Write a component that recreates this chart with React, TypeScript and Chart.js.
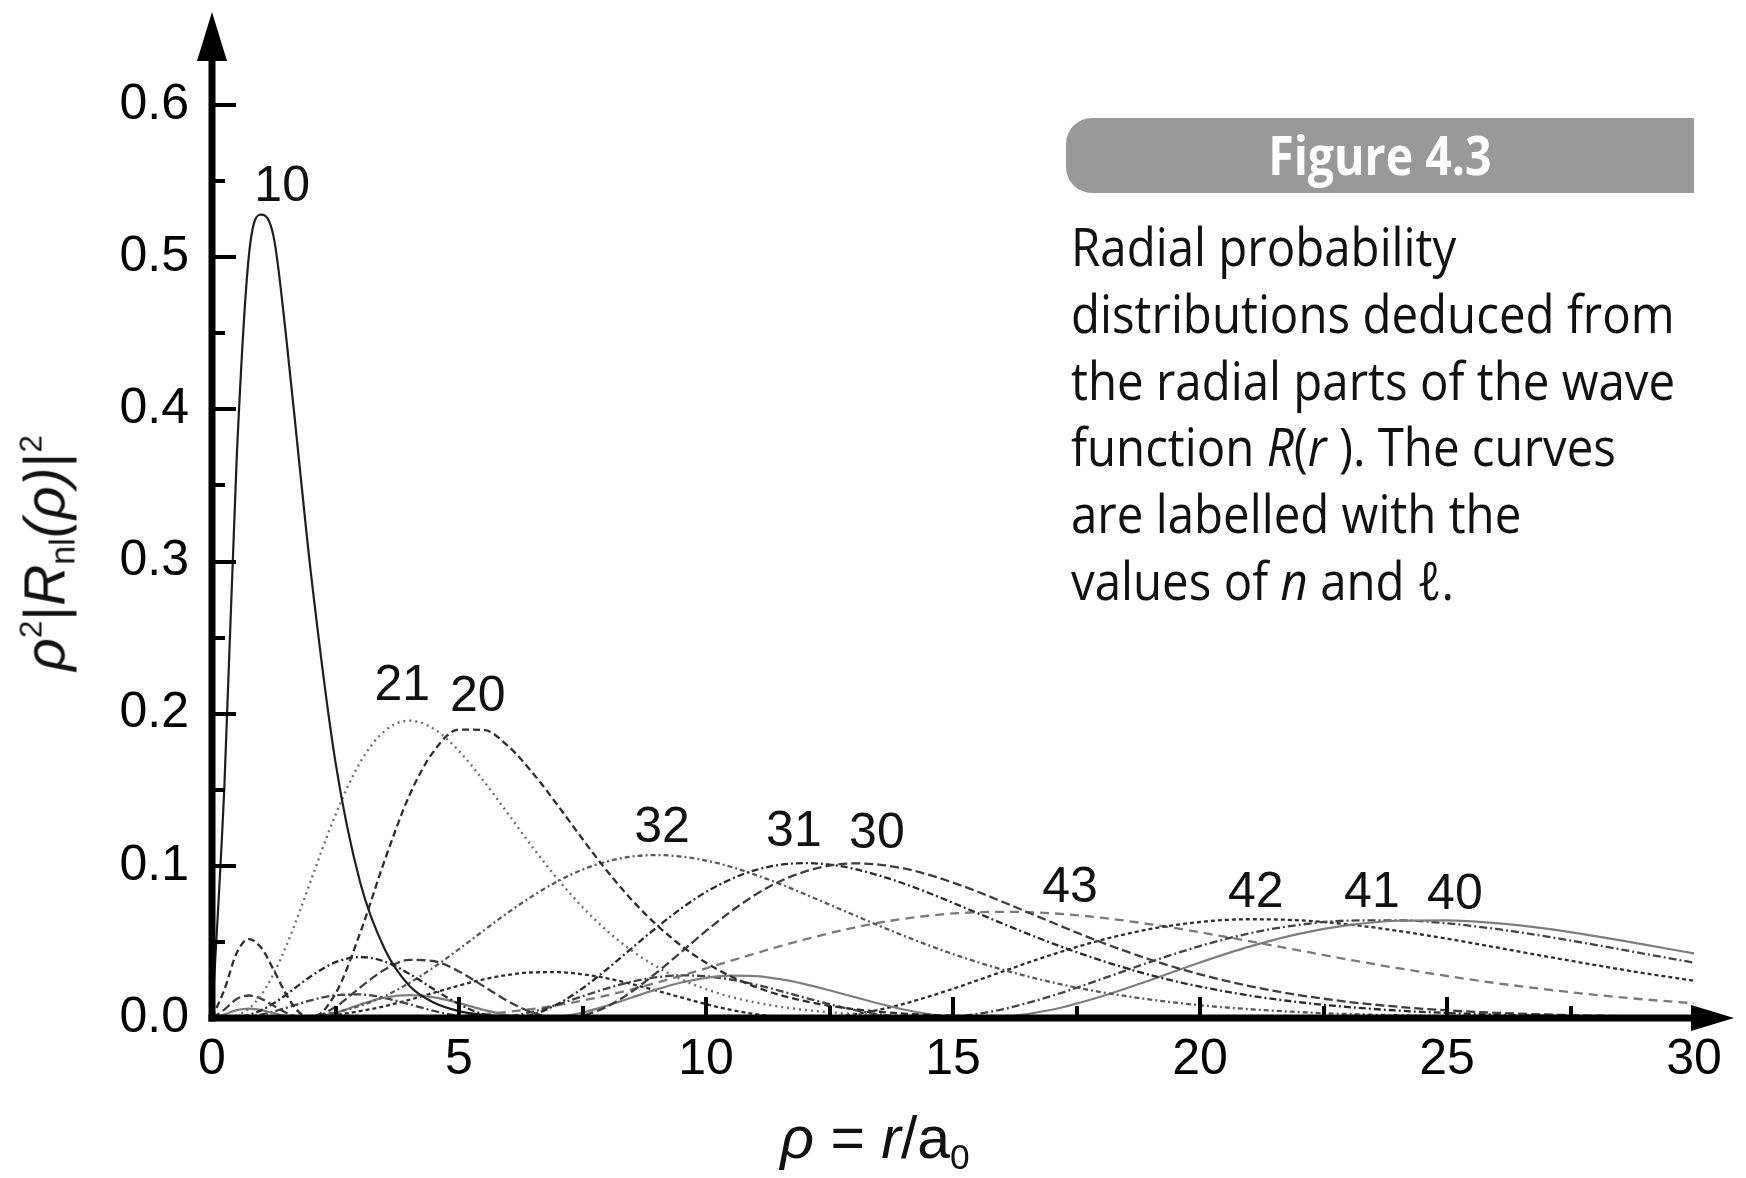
import React, { useEffect, useRef } from 'react';
import { Chart, registerables } from 'chart.js';

Chart.register(...registerables);

// rho = r / a0 sample points
const rho = [0, 0.25, 0.5, 0.75, 1, 1.25, 1.5, 1.75, 2,
  2.5, 3, 3.5, 4, 4.5, 5, 5.5, 6, 6.5, 7, 7.5, 8, 8.5, 9, 9.5, 10, 10.5, 11, 11.5, 12, 12.5, 13, 13.5, 14, 14.5, 15, 15.5, 16,
  17, 18, 19, 20, 21, 22, 23, 24, 25, 26, 27, 28, 29, 30];

const p10 = [0, 0.152, 0.368, 0.502, 0.528, 0.513, 0.448, 0.370, 0.293,
  0.168, 0.089, 0.045, 0.021, 0.010, 0.0045, 0.002, 0.0009, 0.0004, 0.0002, 0, 0, 0, 0, 0, 0, 0, 0, 0, 0, 0, 0, 0, 0, 0, 0, 0, 0,
  0, 0, 0, 0, 0, 0, 0, 0, 0, 0, 0, 0, 0, 0];

const p20 = [0, 0.0186, 0.0427, 0.0519, 0.0460, 0.0315, 0.0157, 0.0042, 0,
  0.0160, 0.0560, 0.1040, 0.1466, 0.1758, 0.1895, 0.1893, 0.1785, 0.1607, 0.1397, 0.1176, 0.0965, 0.0775, 0.0612, 0.0475, 0.0363, 0.0274, 0.0205, 0.0151, 0.0111, 0.0080, 0.0058, 0.0041, 0.0029, 0.0021, 0.0015, 0.0010, 0.0007,
  0.0003, 0.0002, 0.0001, 0, 0, 0, 0, 0, 0, 0, 0, 0, 0, 0];

const p21 = [0, 0.0001, 0.0016, 0.0062, 0.0153, 0.0292, 0.0471, 0.0679, 0.0902,
  0.1336, 0.1680, 0.1888, 0.1954, 0.1898, 0.1755, 0.1558, 0.1339, 0.1118, 0.0912, 0.0729, 0.0572, 0.0442, 0.0337, 0.0254, 0.0189, 0.0139, 0.0102, 0.0074, 0.0053, 0.0038, 0.0027, 0.0019, 0.0013, 0.0009, 0.0006, 0.0004, 0.0003,
  0.0001, 0, 0, 0, 0, 0, 0, 0, 0, 0, 0, 0, 0, 0];

const p30 = [0, 0.0055, 0.0125, 0.0148, 0.0126, 0.0080, 0.0034, 0.0005, 0.0002,
  0.0073, 0.0201, 0.0319, 0.0382, 0.0373, 0.0306, 0.0208, 0.0109, 0.0034, 0.0001, 0.0016, 0.0076, 0.0174, 0.0298, 0.0434, 0.0572, 0.0699, 0.0810, 0.0899, 0.0962, 0.1001, 0.1016, 0.1008, 0.0983, 0.0942, 0.0890, 0.0830, 0.0764,
  0.0629, 0.0498, 0.0383, 0.0287, 0.0210, 0.0151, 0.0106, 0.0074, 0.0050, 0.0034, 0.0023, 0.0015, 0.0010, 0.0006];

const p31 = [0, 0.0000, 0.0006, 0.0021, 0.0052, 0.0097, 0.0153, 0.0214, 0.0274,
  0.0367, 0.0401, 0.0370, 0.0289, 0.0187, 0.0091, 0.0024, 0, 0.0024, 0.0092, 0.0195, 0.0322, 0.0459, 0.0595, 0.0720, 0.0828, 0.0912, 0.0972, 0.1007, 0.1018, 0.1008, 0.0980, 0.0937, 0.0884, 0.0823, 0.0757, 0.0689, 0.0621,
  0.0492, 0.0378, 0.0282, 0.0206, 0.0148, 0.0104, 0.0072, 0.0049, 0.0033, 0.0022, 0.0015, 0.0010, 0.0006, 0.0004];

const p32 = [0, 0, 0, 0, 0.0000, 0.0001, 0.0003, 0.0007, 0.0014,
  0.0038, 0.0080, 0.0145, 0.0231, 0.0336, 0.0453, 0.0575, 0.0695, 0.0804, 0.0899, 0.0975, 0.1029, 0.1061, 0.1071, 0.1061, 0.1035, 0.0994, 0.0941, 0.0881, 0.0814, 0.0745, 0.0676, 0.0607, 0.0541, 0.0479, 0.0420, 0.0367, 0.0318,
  0.0235, 0.0170, 0.0121, 0.0084, 0.0058, 0.0039, 0.0026, 0.0018, 0.0012, 0.0007, 0.0005, 0.0003, 0.0002, 0.0001];

const p40 = [0, 0.0023, 0.0052, 0.0062, 0.0052, 0.0032, 0.0013, 0.0001, 0.0002,
  0.0034, 0.0089, 0.0134, 0.0150, 0.0135, 0.0098, 0.0053, 0.0018, 0.0001, 0.0007, 0.0036, 0.0081, 0.0135, 0.0188, 0.0233, 0.0264, 0.0278, 0.0275, 0.0255, 0.0223, 0.0182, 0.0138, 0.0095, 0.0056, 0.0026, 0.0007, 0.0000, 0.0006,
  0.0054, 0.0141, 0.0250, 0.0365, 0.0469, 0.0553, 0.0610, 0.0639, 0.0642, 0.0623, 0.0587, 0.0538, 0.0482, 0.0424];

const p41 = [0, 0.0000, 0.0002, 0.0010, 0.0023, 0.0043, 0.0066, 0.0092, 0.0116,
  0.0150, 0.0155, 0.0131, 0.0090, 0.0046, 0.0013, 0.0000, 0.0011, 0.0042, 0.0089, 0.0143, 0.0195, 0.0239, 0.0268, 0.0280, 0.0274, 0.0253, 0.0220, 0.0178, 0.0134, 0.0091, 0.0053, 0.0024, 0.0006, 0.0000, 0.0007, 0.0027, 0.0057,
  0.0145, 0.0255, 0.0369, 0.0473, 0.0556, 0.0612, 0.0640, 0.0642, 0.0622, 0.0585, 0.0536, 0.0481, 0.0422, 0.0364];

const p42 = [0, 0, 0, 0.0000, 0.0000, 0.0001, 0.0002, 0.0004, 0.0008,
  0.0021, 0.0045, 0.0078, 0.0120, 0.0167, 0.0213, 0.0254, 0.0284, 0.0300, 0.0301, 0.0287, 0.0261, 0.0223, 0.0180, 0.0135, 0.0091, 0.0054, 0.0025, 0.0006, 0, 0.0006, 0.0025, 0.0054, 0.0093, 0.0140, 0.0192, 0.0248, 0.0305,
  0.0416, 0.0512, 0.0585, 0.0631, 0.0649, 0.0642, 0.0615, 0.0573, 0.0521, 0.0464, 0.0405, 0.0348, 0.0294, 0.0245];

const p43 = [0, 0, 0, 0, 0, 0, 0, 0, 0,
  0.0000, 0.0001, 0.0002, 0.0004, 0.0009, 0.0016, 0.0026, 0.0041, 0.0060, 0.0084, 0.0114, 0.0149, 0.0188, 0.0232, 0.0278, 0.0326, 0.0376, 0.0424, 0.0472, 0.0516, 0.0557, 0.0594, 0.0626, 0.0652, 0.0672, 0.0687, 0.0695, 0.0698,
  0.0688, 0.0659, 0.0616, 0.0563, 0.0505, 0.0444, 0.0384, 0.0328, 0.0276, 0.0229, 0.0188, 0.0152, 0.0122, 0.0097];

const curveNames = ['10', '20', '21', '30', '31', '32', '40', '41', '42', '43'];
const curveValues = [p10, p20, p21, p30, p31, p32, p40, p41, p42, p43];
// where each curve's n-l label sits (data coordinates)
const labelRho = [1.42, 5.38, 3.85, 13.46, 11.78, 9.11, 25.16, 23.48, 21.13, 17.37];
const labelP = [0.546, 0.211, 0.218, 0.121, 0.122, 0.125, 0.081, 0.082, 0.082, 0.085];

// axis ranges and tick steps
const xMin = 0, xMax = 30, xStep = 2.5, xMajor = 5;
const yMin = 0, yMax = 0.6, yStep = 0.05, yMajor = 0.1;

// line styles
const curveColors = ['#1e1e1e', '#2e2e2e', '#707070', '#3e3e3e', '#2a2a2a', '#5a5a5a', '#7e7e7e', '#444444', '#2e2e2e', '#7a7a7a'];
const curveDashes = [[], [7, 4], [2, 4], [9, 4], [7, 3, 2, 3], [5, 3, 2, 3], [], [8, 3, 2, 3], [4, 3], [9, 6]];
const curveWidths = [2.2, 2.3, 2.4, 2.3, 2.3, 2.3, 2.2, 2.3, 2.3, 2.3];

const FONT = "'Liberation Sans', Arial, Helvetica, sans-serif";

const isMajorX = (v: number) => Math.round(v * 10) % Math.round(xMajor * 10) === 0;
const isMajorY = (v: number) => Math.round(v * 100) % Math.round(yMajor * 100) === 0;

const decoPlugin = {
  id: 'deco',
  afterDatasetsDraw(chart: any) {
    const { ctx, scales } = chart;
    const x = scales.x, y = scales.y;
    const x0 = x.getPixelForValue(xMin);
    const x1 = x.getPixelForValue(xMax);
    const y0 = y.getPixelForValue(yMin);
    const y1 = y.getPixelForValue(yMax);
    ctx.save();
    ctx.strokeStyle = '#000';
    ctx.fillStyle = '#000';
    // ticks (inside)
    ctx.lineWidth = 4;
    ctx.lineCap = 'butt';
    for (const t of x.ticks) {
      const v = t.value;
      if (v <= xMin + 1e-9 || v >= xMax - 1e-9) continue;
      const px = Math.round(x.getPixelForValue(v));
      const len = isMajorX(v) ? 21 : 12;
      ctx.beginPath();
      ctx.moveTo(px, y0);
      ctx.lineTo(px, y0 - len);
      ctx.stroke();
    }
    for (const t of y.ticks) {
      const v = t.value;
      if (v <= yMin + 1e-9) continue;
      const py = Math.round(y.getPixelForValue(v));
      const len = isMajorY(v) ? 24 : 13;
      ctx.beginPath();
      ctx.moveTo(x0, py);
      ctx.lineTo(x0 + len, py);
      ctx.stroke();
    }
    // axis lines
    ctx.lineWidth = 7;
    ctx.beginPath();
    ctx.moveTo(x0, y0 + 3.5);
    ctx.lineTo(x0, y1 - 45);
    ctx.stroke();
    ctx.beginPath();
    ctx.moveTo(x0 - 3.5, y0);
    ctx.lineTo(x1, y0);
    ctx.stroke();
    // arrow heads
    ctx.beginPath();
    ctx.moveTo(x0, y1 - 93);
    ctx.lineTo(x0 - 15, y1 - 44);
    ctx.lineTo(x0 + 15, y1 - 44);
    ctx.closePath();
    ctx.fill();
    ctx.beginPath();
    ctx.moveTo(x1 + 40, y0);
    ctx.lineTo(x1 - 3, y0 - 13);
    ctx.lineTo(x1 - 3, y0 + 13);
    ctx.closePath();
    ctx.fill();
    // curve labels
    ctx.font = `50px ${FONT}`;
    ctx.textAlign = 'center';
    ctx.textBaseline = 'middle';
    ctx.fillStyle = '#111';
    curveNames.forEach((name, i) => {
      ctx.fillText(name, x.getPixelForValue(labelRho[i]), y.getPixelForValue(labelP[i]));
    });
    ctx.restore();
  },
};

const supStyle: React.CSSProperties = { fontSize: '0.55em', position: 'relative', top: '-0.75em', verticalAlign: 'baseline' };
const subStyle: React.CSSProperties = { fontSize: '0.6em', position: 'relative', top: '0.3em', verticalAlign: 'baseline' };

export default function App() {
  const ref = useRef<HTMLCanvasElement>(null);

  useEffect(() => {
    const datasets = curveNames.map((name, i) => ({
      label: name,
      data: rho.map((r, j) => ({ x: r, y: curveValues[i][j] })),
      borderColor: curveColors[i],
      borderDash: curveDashes[i],
      borderWidth: curveWidths[i],
      pointRadius: 0,
      fill: false,
      cubicInterpolationMode: 'monotone' as const,
    }));
    const chart = new Chart(ref.current as HTMLCanvasElement, {
      type: 'line',
      data: { datasets },
      options: {
        responsive: false,
        maintainAspectRatio: false,
        animation: false,
        layout: { padding: { left: 0, right: 52, top: 105, bottom: 0 } },
        plugins: {
          legend: { display: false },
          tooltip: { enabled: false },
          title: { display: false },
        },
        scales: {
          x: {
            type: 'linear',
            min: xMin,
            max: xMax,
            border: { display: false },
            grid: { display: false, drawTicks: false },
            ticks: {
              stepSize: xStep,
              autoSkip: false,
              maxRotation: 0,
              padding: 12,
              color: '#000',
              font: { family: FONT, size: 50 },
              callback: (v: any) => (isMajorX(Number(v)) ? String(Math.round(Number(v))) : ''),
            },
            afterFit: (s: any) => { s.height = 160; },
          },
          y: {
            type: 'linear',
            min: yMin,
            max: yMax,
            border: { display: false },
            grid: { display: false, drawTicks: false },
            ticks: {
              stepSize: yStep,
              autoSkip: false,
              padding: 23,
              color: '#000',
              font: { family: FONT, size: 50 },
              callback: (v: any) => (isMajorY(Number(v)) ? Number(v).toFixed(1) : ''),
            },
            afterFit: (s: any) => { s.width = 212; },
          },
        },
      },
      plugins: [decoPlugin],
    });
    return () => chart.destroy();
  }, []);

  return (
    <div style={{ position: 'absolute', left: 0, top: 0, width: 1746, height: 1178, background: '#fff', overflow: 'hidden' }}>
      <canvas ref={ref} width={1746} height={1178} style={{ position: 'absolute', left: 0, top: 0, width: 1746, height: 1178 }} />

      {/* y axis title */}
      <div style={{ position: 'absolute', left: 45, top: 553, transform: 'translate(-50%, -50%) rotate(-90deg)', fontFamily: FONT, fontSize: 57, lineHeight: 1, whiteSpace: 'nowrap', color: '#111' }}>
        <span style={{ fontStyle: 'italic' }}>ρ</span><span style={supStyle}>2</span>|<span style={{ fontStyle: 'italic' }}>R</span><span style={subStyle}>nl</span><span style={{ fontStyle: 'italic' }}>(ρ)</span>|<span style={supStyle}>2</span>
      </div>

      {/* x axis title */}
      <div style={{ position: 'absolute', left: 875, top: 1138, transform: 'translate(-50%, -50%)', fontFamily: FONT, fontSize: 59, lineHeight: 1, whiteSpace: 'nowrap', color: '#111' }}>
        <span style={{ fontStyle: 'italic' }}>ρ</span> = <span style={{ fontStyle: 'italic' }}>r</span>/a<span style={subStyle}>0</span>
      </div>

      {/* caption box */}
      <div style={{ position: 'absolute', left: 1066, top: 118, width: 628, height: 75, background: '#999999', borderRadius: '26px 0 0 26px', display: 'flex', alignItems: 'center', justifyContent: 'center' }}>
        <div style={{ fontFamily: "'Open Sans', 'Noto Sans', sans-serif", fontWeight: 700, fontSize: 54, color: '#fff', transform: 'translateY(-2px) scaleX(0.86)', whiteSpace: 'nowrap', lineHeight: 1 }}>Figure 4.3</div>
      </div>

      {/* caption text */}
      <div style={{ position: 'absolute', left: 1071, top: 213, fontFamily: "'Open Sans', 'Noto Sans', sans-serif", fontSize: 53, lineHeight: '66.8px', color: '#111', transform: 'scaleX(0.895)', transformOrigin: 'left top', whiteSpace: 'nowrap' }}>
        <div>Radial probability</div>
        <div>distributions deduced from</div>
        <div>the radial parts of the wave</div>
        <div>function <i>R</i>(<i>r</i> ). The curves</div>
        <div>are labelled with the</div>
        <div>values of <i>n</i> and <i>ℓ</i>.</div>
      </div>
    </div>
  );
}
